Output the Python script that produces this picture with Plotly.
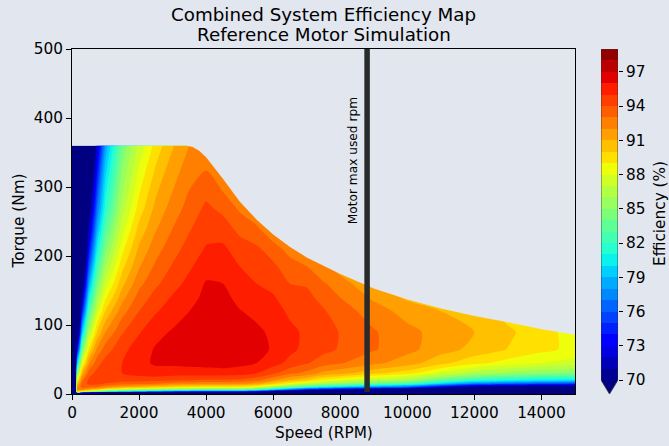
import numpy as np
import plotly.graph_objects as go

# ---------------- data ----------------
speeds = [0, 150, 300, 500, 750, 1000, 1500, 2000, 2500, 3000, 3500, 4000, 4500, 5000,
          5500, 6000, 6500, 7000, 7500, 8000, 9000, 10000, 11000, 12000, 13000, 14000, 15000]
torques = [0, 3, 6, 10, 15, 20, 30, 45, 65, 90, 120, 140, 160, 185, 210, 240, 270, 360]

# efficiency (%) rows, one per torque value, across the speeds above
eff_t0 = [0] * 27
eff_t3 = [0, 89.0, 87.2, 84.5, 82.3, 79.5, 77.0, 75.3, 74.0, 72.6, 71.8, 71.1, 71.0, 71.0, 69.4, 65.3, 61.4, 57.8, 56.0, 54.4, 51.6, 49.5, 44.8, 41.3, 40.2, 39.4, 39.1]
eff_t6 = [0, 92.0, 92.1, 91.0, 89.8, 88.3, 86.8, 85.8, 84.9, 84.0, 83.5, 83.0, 83.0, 83.0, 81.9, 78.9, 76.0, 73.2, 71.7, 70.4, 68.0, 66.1, 61.8, 58.4, 57.3, 56.5, 56.1]
eff_t10 = [0, 91.8, 93.5, 93.4, 93.0, 92.2, 91.3, 90.7, 90.2, 89.6, 89.3, 89.0, 88.9, 88.9, 88.1, 86.1, 83.9, 82.0, 80.7, 79.7, 77.8, 76.3, 72.7, 69.9, 68.9, 68.1, 67.8]
eff_t15 = [0, 90.3, 93.4, 94.2, 94.3, 93.9, 93.5, 93.3, 93.0, 92.6, 92.4, 92.2, 92.2, 92.1, 91.6, 90.1, 88.5, 87.2, 86.0, 85.2, 83.7, 82.5, 79.7, 77.4, 76.5, 75.9, 75.5]
eff_t20 = [0, 88.5, 92.8, 94.2, 94.5, 94.6, 94.4, 94.4, 94.3, 94.1, 94.0, 93.9, 93.9, 93.8, 93.3, 92.1, 90.9, 90.0, 88.9, 88.2, 86.9, 85.9, 83.6, 81.7, 80.9, 80.3, 80.0]
eff_t30 = [0, 84.6, 90.9, 93.5, 94.4, 94.7, 95.0, 95.4, 95.6, 95.5, 95.5, 95.5, 95.5, 95.4, 95.0, 94.2, 93.25, 92.7, 91.7, 91.3, 90.25, 89.4, 87.7, 86.3, 85.6, 85.0, 84.7]
eff_t45 = [0, 79.1, 87.9, 91.8, 93.6, 94.4, 95.0, 95.7, 96.15, 96.2, 96.3, 96.4, 96.5, 96.3, 96.0, 95.4, 94.7, 94.1, 93.5, 93.1, 92.25, 91.5, 90.3, 89.3, 88.6, 88.0, 87.6]
eff_t65 = [0, 72.6, 83.9, 89.3, 92.2, 93.5, 94.7, 95.5, 96.1, 96.4, 96.6, 96.8, 96.8, 96.6, 96.3, 95.9, 95.25, 94.7, 94.3, 93.9, 93.1, 92.3, 91.45, 90.7, 89.97, 89.3, 88.7]
eff_t90 = [0, 65.8, 79.2, 86.2, 90.1, 92.0, 93.9, 94.9, 95.7, 96.1, 96.45, 96.7, 96.8, 96.45, 96.2, 95.8, 95.24, 94.8, 94.35, 93.95, 93.1, 92.3, 91.6, 91.0, 90.2, 89.35, 88.6]
eff_t120 = [0, 59.2, 74.2, 82.6, 87.5, 90.1, 92.6, 94.0, 94.9, 95.5, 96.0, 96.5, 96.55, 96.05, 95.75, 95.45, 94.8, 94.5, 94.1, 93.5, 92.5, 91.6, 91.0, 90.55, 89.55, 88.6, 87.6]
eff_t140 = [0, 55.4, 71.2, 80.4, 85.8, 88.8, 91.65, 93.4, 94.4, 95.1, 95.65, 96.26, 96.3, 95.7, 95.4, 95.1, 94.45, 94.25, 93.7, 93.0, 91.8, 90.8, 90.3, 90.0, 88.9, 87.85, 86.75]
eff_t160 = [0, 52.1, 68.4, 78.2, 84.2, 87.5, 90.7, 92.7, 93.8, 94.6, 95.3, 96.1, 96.0, 95.35, 95.0, 94.7, 94.0, 93.9, 93.1, 92.5, 91.0, 89.9, 89.6, 89.4, 88.2, 87.0, 85.8]
eff_t185 = [0, 48.6, 65.4, 75.8, 82.4, 86.0, 89.7, 91.9, 93.2, 94.1, 94.85, 95.55, 95.6, 95.0, 94.65, 94.2, 93.45, 93.0, 92.2, 91.45, 90.2, 89.0, 88.7, 88.55, 87.2, 85.85, 84.5]
eff_t210 = [0, 45.6, 62.6, 73.6, 80.6, 84.6, 88.7, 91.2, 92.6, 93.6, 94.4, 95.1, 95.2, 94.5, 94.2, 93.5, 92.6, 92.0, 91.2, 90.4, 89.3, 88.0, 87.8, 87.7, 86.2, 84.7, 83.2]
eff_t240 = [0, 42.6, 59.7, 71.1, 78.6, 83.0, 87.6, 90.3, 91.9, 93.0, 93.9, 94.6, 94.5, 93.7, 93.2, 92.1, 91.4, 90.75, 90.0, 89.2, 88.3, 86.9, 86.7, 86.55, 85.0, 83.3, 81.7]
eff_t270 = [0, 40.1, 57.2, 68.9, 76.8, 81.5, 86.5, 89.4, 91.3, 92.4, 93.4, 94.2, 93.7, 92.8, 92.0, 90.5, 90.0, 89.5, 88.75, 88.0, 87.3, 85.8, 85.6, 85.4, 83.7, 81.9, 80.2]
eff_t360 = [0, 33.9, 50.6, 63.1, 71.9, 78.3, 84.2, 87.3, 89.4, 90.9, 92.0, 92.2, 91.0, 90.0, 89.0, 87.5, 86.8, 86.0, 85.5, 85.0, 84.3, 82.5, 82.2, 82.0, 79.9, 77.8, 75.8]

# maximum torque envelope of the motor
env_speed = [0, 3400, 3600, 3800, 4000, 4200, 4500, 5000, 5500, 6000, 6500, 7000,
             8000, 9000, 10000, 11000, 12000, 13000, 14000, 15000]
env_torque = [360, 360, 358, 352, 343, 331, 312, 279, 253, 231, 213, 198,
              174, 153, 137, 124, 113, 104, 94, 86]

motor_max_rpm = 8800
line_torque_span = [3, 500]

levels_min, levels_max, level_step = 70, 99, 1
cbar_ticks = list(range(70, 98, 3))
x_ticks = list(range(0, 15000, 2000))
y_ticks = list(range(0, 501, 100))
speed_range = [0, 15000]
torque_range = [0, 500]

# ---------------- styling ----------------
BG = "#e1e6ef"
FONT = "DejaVu Sans"
TICK = 15.3


def mpl_jet(v):
    r = np.interp(v, [0, 0.35, 0.66, 0.89, 1], [0, 0, 1, 1, 0.5])
    g = np.interp(v, [0, 0.125, 0.375, 0.64, 0.91, 1], [0, 0, 1, 1, 0, 0])
    b = np.interp(v, [0, 0.11, 0.34, 0.65, 1], [0.5, 1, 1, 0, 0])
    return "rgb(%d,%d,%d)" % (round(r * 255), round(g * 255), round(b * 255))


nb = levels_max - levels_min  # number of bands (29)
# plotly fill colour for band [k,k+1] is sampled at s=(k-69)/nb; give it matplotlib's jet colour
colorscale = []
for k in range(levels_min - 1, levels_max):
    s = (k - (levels_min - 1)) / nb
    v = max(0.0, (k + 0.5 - levels_min) / nb)
    colorscale.append([s, mpl_jet(v)])

z = [eff_t0, eff_t3, eff_t6, eff_t10, eff_t15, eff_t20, eff_t30, eff_t45, eff_t65,
     eff_t90, eff_t120, eff_t140, eff_t160, eff_t185, eff_t210, eff_t240, eff_t270, eff_t360]

fig = go.Figure()
fig.add_trace(go.Contour(
    x=speeds, y=torques, z=z,
    autocontour=False,
    contours=dict(start=levels_min, end=levels_max - 1, size=level_step,
                  coloring="fill", showlines=False),
    colorscale=colorscale, showscale=False,
    line=dict(width=0, smoothing=0.7),
    hoverinfo="skip",
))

# mask above the torque envelope
mask_x = env_speed + [speed_range[1], speed_range[0]]
mask_y = env_torque + [torque_range[1] + 5, torque_range[1] + 5]
fig.add_trace(go.Scatter(x=mask_x, y=mask_y, fill="toself", fillcolor=BG,
                         mode="lines", line=dict(width=0, color=BG),
                         hoverinfo="skip", showlegend=False))

# motor max rpm line
fig.add_trace(go.Scatter(x=[motor_max_rpm, motor_max_rpm], y=line_torque_span,
                         mode="lines", line=dict(color="rgb(40,42,44)", width=5.5),
                         hoverinfo="skip", showlegend=False))

# custom colorbar as heatmap on its own axes
band_centres = [k + 0.5 for k in range(levels_min, levels_max)]
fig.add_trace(go.Heatmap(
    x=[0.5], y=band_centres, z=[[c] for c in band_centres],
    zmin=levels_min - 0.5, zmax=levels_max - 0.5,
    colorscale=colorscale, showscale=False,
    xaxis="x2", yaxis="y2", hoverinfo="skip",
))

plot_w = 669 - 72 - 8
main_right = 503 / plot_w
cb_lo = (601 - 72) / plot_w
cb_hi = (618 - 72) / plot_w
px_per_unit = 331 / nb
tip = levels_min - 14 / px_per_unit

fig.update_layout(
    width=669, height=446,
    margin=dict(l=72, r=8, t=49, b=52, pad=0),
    paper_bgcolor=BG, plot_bgcolor=BG,
    showlegend=False,
    font=dict(family=FONT, size=TICK, color="black"),
    xaxis=dict(domain=[0, main_right], range=speed_range, tickvals=x_ticks,
               ticktext=[str(v) for v in x_ticks],
               ticks="outside", ticklen=5, tickwidth=1, tickcolor="black",
               showline=True, linecolor="black", linewidth=1, mirror=True,
               showgrid=False, zeroline=False, tickfont=dict(size=TICK)),
    yaxis=dict(range=torque_range, tickvals=y_ticks,
               ticktext=[str(v) for v in y_ticks],
               ticks="outside", ticklen=5, tickwidth=1, tickcolor="black",
               showline=True, linecolor="black", linewidth=1, mirror=True,
               showgrid=False, zeroline=False, tickfont=dict(size=TICK)),
    xaxis2=dict(domain=[cb_lo, cb_hi], range=[0, 1], anchor="y2",
                showticklabels=False, ticks="", showline=False, showgrid=False,
                zeroline=False, fixedrange=True),
    yaxis2=dict(domain=[0, 1], anchor="x2", side="right", range=[tip, levels_max],
                tickvals=cbar_ticks, ticks="outside", ticklen=4, tickwidth=1,
                tickcolor="black", showline=False, showgrid=False, zeroline=False,
                tickfont=dict(size=TICK)),
    shapes=[
        dict(type="path", xref="x2", yref="y2",
             path=f"M 0,{levels_min} L 1,{levels_min} L 0.5,{tip} Z",
             fillcolor=mpl_jet(0), line=dict(width=0)),
        dict(type="path", xref="x2", yref="y2",
             path=f"M 0,{levels_max} L 1,{levels_max} L 1,{levels_min} L 0.5,{tip} L 0,{levels_min} Z",
             fillcolor="rgba(0,0,0,0)", line=dict(color="#333333", width=0.8)),
    ],
    annotations=[
        dict(text="Combined System Efficiency Map", xref="paper", yref="paper",
             x=main_right / 2, y=(394 - 14) / 345, xanchor="center", yanchor="middle",
             showarrow=False, font=dict(size=18.3)),
        dict(text="Reference Motor Simulation", xref="paper", yref="paper",
             x=main_right / 2, y=(394 - 34) / 345, xanchor="center", yanchor="middle",
             showarrow=False, font=dict(size=18.3)),
        dict(text="Speed (RPM)", xref="paper", yref="paper",
             x=main_right / 2, y=(394 - 433) / 345, xanchor="center", yanchor="middle",
             showarrow=False, font=dict(size=TICK)),
        dict(text="Torque (Nm)", xref="paper", yref="paper",
             x=(18 - 72) / plot_w, y=0.5, xanchor="center", yanchor="middle",
             textangle=-90, showarrow=False, font=dict(size=TICK)),
        dict(text="Efficiency (%)", xref="paper", yref="paper",
             x=(660 - 72) / plot_w, y=(394 - 214) / 345, xanchor="center", yanchor="middle",
             textangle=-90, showarrow=False, font=dict(size=TICK)),
        dict(text="Motor max used rpm", xref="x", yref="y",
             x=motor_max_rpm - 435, y=338, xanchor="center", yanchor="middle",
             textangle=-90, showarrow=False, font=dict(size=12.2)),
    ],
)

fig.write_html("out.html")
